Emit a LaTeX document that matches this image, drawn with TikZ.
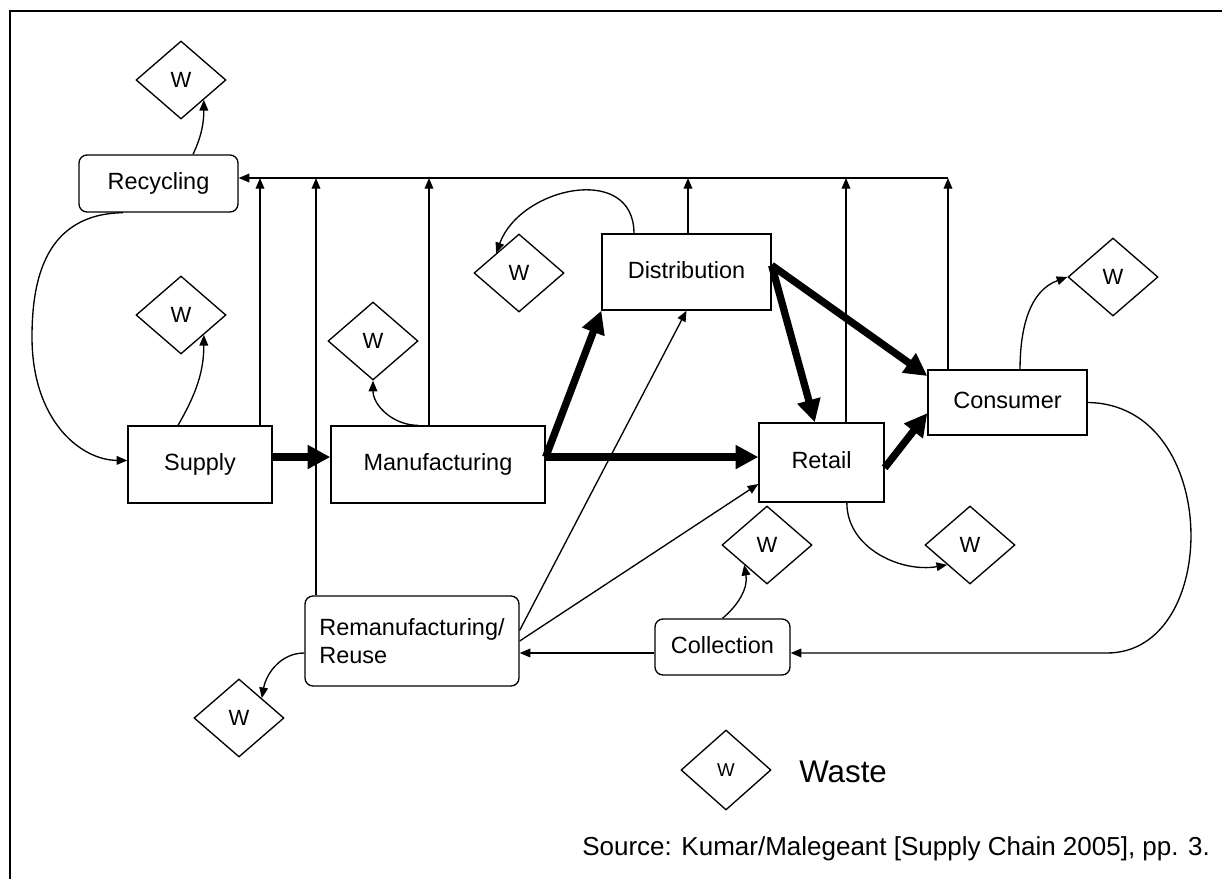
\documentclass[tikz,border=0pt]{standalone}
\usepackage{fontspec}
\setmainfont{Liberation Sans}
\usetikzlibrary{shapes.geometric,arrows.meta,calc}

\tikzset{
  frame/.style={line width=1pt},
  box/.style={draw, line width=1pt, inner sep=0pt,
    font=\fontsize{17.6}{21}\selectfont, text height=12.7pt, text depth=3.7pt},
  rbox/.style={box, rounded corners=6pt},
  waste/.style={diamond, draw, line width=1pt, inner sep=0pt,
    minimum width=67.5pt, minimum height=58.5pt,
    font=\fontsize{16.5}{18}\selectfont},
  flow/.style={line width=1pt, -{Triangle[length=8pt,width=6.5pt]}},
  mainflow/.style={line width=5.5pt, -{Triangle[length=17pt,width=17pt]}},
  label/.style={anchor=west, inner sep=0pt}
}

\begin{document}
\begin{tikzpicture}[x=0.75pt,y=-0.75pt]
\useasboundingbox (0,0) rectangle (1222,879);

% outer frame
\draw[frame] (10,879) -- (10,11) -- (1222,11);

% stages of the chain
\node[rbox, minimum width=119.25pt, minimum height=42.75pt] (rec) at (158.5,183.5) {Recycling};
\node[box, minimum width=108pt, minimum height=57.75pt] (sup) at (200,464.5) {Supply};
\node[box, minimum width=160.5pt, minimum height=57.75pt] (man) at (438,464.5) {Manufacturing};
\node[box, minimum width=126.75pt, minimum height=57pt] (dis) at (686.5,272) {Distribution};
\node[box, minimum width=93.75pt, minimum height=59.25pt] (ret) at (821.5,462.5) {Retail};
\node[box, minimum width=119.25pt, minimum height=48.75pt] (con) at (1007.5,402.5) {Consumer};
\node[rbox, minimum width=101.25pt, minimum height=42pt] (col) at (722.5,647) {Collection};
\node[draw, line width=1pt, rounded corners=6pt, inner sep=0pt, align=left,
      font=\fontsize{17.6}{21.5}\selectfont,
      minimum width=160.5pt, minimum height=67.5pt] (rem) at (412,641) {Remanufacturing/\\Reuse};

% waste diamonds
\node[waste] (w1) at (181,80) {W};
\node[waste] (w2) at (181,315) {W};
\node[waste] (w3) at (373,341) {W};
\node[waste] (w4) at (519,273) {W};
\node[waste] (w5) at (1113,277) {W};
\node[waste] (w6) at (767,545) {W};
\node[waste] (w7) at (970,545) {W};
\node[waste] (w8) at (239,718) {W};

% return bus to recycling
\coordinate (bus) at (948,178);
\draw[flow] (bus) -- (bus -| rec.east);
\foreach \x/\n in {260/sup,316/rem,429/man,688/dis,846/ret,948/con}{
  \coordinate (b) at (\x,178);
  \draw[flow] (b |- \n.north) -- (b);
}

% main forward flow
\draw[mainflow] ([yshift=5.6pt]sup.east) -- ([yshift=5.6pt]man.west);
\draw[mainflow] ([yshift=5.6pt]man.east) -- ([yshift=4.1pt]ret.west);
\draw[mainflow] ([yshift=5.6pt]man.east) -- (dis.south west);
\draw[mainflow] ([yshift=5pt]dis.east) -- ([xshift=-5pt]ret.north);
\draw[mainflow] ([yshift=5pt]dis.east) -- ([yshift=-5pt]con.north west);
\draw[mainflow] ([yshift=-4pt]ret.east) -- ([yshift=-8pt]con.west);

% reuse flows
\draw[flow] ([yshift=8pt]rem.east) -- (dis.south);
\draw[flow] (rem.east) -- ([yshift=14pt]ret.south west);
\coordinate (cw) at ([yshift=-4.5pt]col.west);
\draw[flow] (cw) -- (cw -| rem.east);
\coordinate (cb) at (1107,653);
\draw[flow] (con.east) .. controls (1222,404) and (1222,653) .. (cb) -- (cb -| col.east);
\draw[flow] ([xshift=-26.6pt]rec.south) .. controls (45,214) and (32,280) .. (32,337)
  .. controls (32,420) and (80,460) .. ([yshift=3pt]sup.west);

% waste outputs
\draw[flow] ([xshift=25.9pt]rec.north) to[out=65,in=-90] ($(w1.south)!.5!(w1.east)$);
\draw[flow] ([xshift=-16.5pt]sup.north) to[out=60,in=-90] ($(w2.south)!.5!(w2.east)$);
\draw[flow] ([xshift=-15pt]man.north) to[out=180,in=-90] (w3.south);
\draw[flow] ([xshift=-39.4pt]dis.north) to[out=90,in=70,looseness=1.3] ($(w4.north)!.5!(w4.west)$);
\draw[flow] ([xshift=9.4pt]con.north) to[out=90,in=200] (w5.west);
\draw[flow] ([xshift=19pt]ret.south) to[out=-90,in=190] ($(w7.south)!.5!(w7.west)$);
\draw[flow] (col.north) to[out=40,in=-80] ($(w6.south)!.5!(w6.west)$);
\draw[flow] ([yshift=-9pt]rem.west) to[out=180,in=80] ($(w8.north)!.5!(w8.east)$);

% legend and source
\node[waste, minimum height=60pt, font=\fontsize{14}{16}\selectfont] (wl) at (726,770) {W};
\node[label, font=\fontsize{23.5}{26}\selectfont] (wtxt) at (799,772) {Waste};
\node[label, font=\fontsize{19.5}{22}\selectfont] (src) at (582,849)
  {Source: Kumar/Malegeant [Supply Chain 2005], pp. 3.};
\end{tikzpicture}
\end{document}
